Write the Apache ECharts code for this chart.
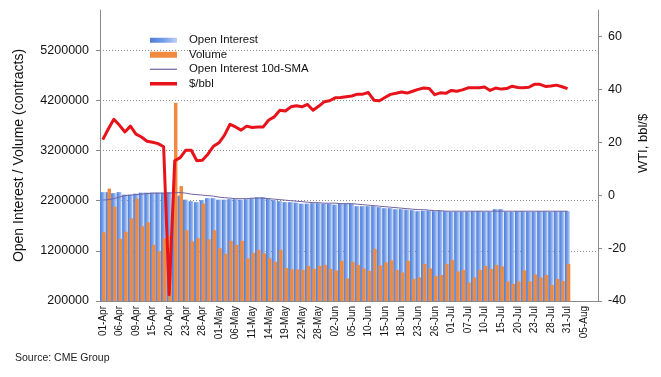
<!DOCTYPE html>
<html>
<head>
<meta charset="utf-8">
<script src="https://cdn.jsdelivr.net/npm/echarts@6/dist/echarts.min.js"></script>
<style>
  html, body { margin: 0; padding: 0; background: #fff; }
  #chart { width: 661px; height: 377px; }
</style>
</head>
<body>
<div id="chart"></div>
<script>
// trading days, 01-Apr .. 07-Aug (data ends 31-Jul)
const dates = [
  '01-Apr','02-Apr','03-Apr','06-Apr','07-Apr','08-Apr','09-Apr','13-Apr','14-Apr','15-Apr','16-Apr','17-Apr','20-Apr','21-Apr','22-Apr','23-Apr','24-Apr','27-Apr','28-Apr','29-Apr','30-Apr',
  '01-May','04-May','05-May','06-May','07-May','08-May','11-May','12-May','13-May','14-May','15-May','18-May','19-May','20-May','21-May','22-May','26-May','27-May','28-May','29-May',
  '01-Jun','02-Jun','03-Jun','04-Jun','05-Jun','08-Jun','09-Jun','10-Jun','11-Jun','12-Jun','15-Jun','16-Jun','17-Jun','18-Jun','19-Jun','22-Jun','23-Jun','24-Jun','25-Jun','26-Jun','29-Jun','30-Jun',
  '01-Jul','02-Jul','06-Jul','07-Jul','08-Jul','09-Jul','10-Jul','13-Jul','14-Jul','15-Jul','16-Jul','17-Jul','20-Jul','21-Jul','22-Jul','23-Jul','24-Jul','27-Jul','28-Jul','29-Jul','30-Jul','31-Jul',
  '03-Aug','04-Aug','05-Aug','06-Aug','07-Aug'
];

const openInterest = [
  2370000,2370000,2350000,2370000,2320000,2320000,2340000,2360000,2360000,2360000,2360000,2360000,2370000,2380000,2300000,
  2220000,2190000,2170000,2210000,2250000,2250000,2220000,2220000,2230000,2230000,2220000,2230000,2250000,2270000,2270000,
  2240000,2210000,2190000,2170000,2170000,2160000,2140000,2140000,2150000,2150000,2140000,2140000,2120000,2140000,2140000,
  2140000,2090000,2090000,2090000,2090000,2070000,2050000,2050000,2030000,2030000,2020000,2010000,1990000,2000000,2000000,
  1990000,2000000,1990000,1980000,1980000,1980000,1980000,1990000,1990000,1980000,1980000,2030000,2030000,1980000,1980000,
  1990000,1990000,1980000,1980000,1990000,1990000,1980000,1990000,1990000,1990000
];

const volume = [
  1570000,2440000,2080000,1440000,1580000,1850000,2240000,1690000,1770000,1320000,1190000,1450000,1500000,4150000,2490000,
  1610000,1390000,1450000,2140000,1430000,1610000,1250000,1140000,1400000,1320000,1400000,1050000,1160000,1220000,1150000,
  1050000,980000,1220000,860000,830000,830000,820000,900000,840000,900000,920000,840000,810000,1000000,650000,
  980000,920000,850000,800000,1240000,910000,970000,1010000,820000,770000,1000000,640000,670000,940000,850000,
  700000,720000,940000,1020000,790000,820000,570000,670000,820000,900000,840000,920000,890000,590000,540000,
  590000,810000,590000,730000,670000,720000,520000,640000,600000,940000
];

const oiSma10 = [
  2210000,2220000,2240000,2270000,2300000,2310000,2320000,2330000,2340000,2350000,2350000,2350000,2350000,2360000,2360000,
  2350000,2330000,2320000,2310000,2300000,2290000,2270000,2260000,2250000,2240000,2240000,2240000,2250000,2250000,2250000,
  2240000,2230000,2220000,2210000,2200000,2190000,2180000,2170000,2160000,2160000,2150000,2150000,2150000,2140000,2140000,
  2140000,2130000,2120000,2110000,2100000,2090000,2080000,2070000,2060000,2050000,2040000,2030000,2020000,2020000,2010000,
  2000000,2000000,1990000,1990000,1990000,1990000,1990000,1990000,1990000,1990000,1990000,1990000,1990000,1990000,1990000,
  1990000,1990000,1990000,1990000,1990000,1990000,1990000,1990000,1990000,1990000
];

// WTI front month, $/bbl
const wti = [
  21.0,25.0,28.7,26.5,23.9,26.1,23.1,22.0,20.4,20.0,19.5,18.3,-37.6,13.0,14.2,
  17.0,17.0,13.0,13.2,15.5,18.5,19.8,22.7,26.8,25.8,24.6,26.1,25.6,25.8,25.8,
  28.4,29.6,32.1,31.8,33.4,33.8,33.4,34.3,32.1,33.6,35.3,35.7,36.8,36.9,37.2,
  37.5,38.2,38.2,38.8,35.9,35.7,36.9,38.1,38.5,39.0,38.6,39.3,40.0,40.5,40.3,
  38.0,38.7,38.5,39.6,39.3,39.8,40.6,40.6,40.6,40.9,39.6,40.5,40.1,40.3,41.2,
  40.7,40.6,40.8,41.9,41.9,41.1,41.3,41.6,41.0,40.3
];

const font = '"Liberation Sans", Arial, sans-serif';
const axisGrey = '#8a8a8a';
const gridGrey = '#8c8c8c';
const textCol = '#111';

const chart = echarts.init(document.getElementById('chart'));

const option = {
  animation: false,
  textStyle: { fontFamily: font },
  grid: { left: 100, right: 63, top: 10, bottom: 76 },
  legend: {
    orient: 'vertical',
    left: 145,
    top: 29,
    itemWidth: 27,
    itemHeight: 6,
    itemGap: 2,
    symbolKeepAspect: true,
    textStyle: { fontSize: 11.4, lineHeight: 12.5, color: textCol, padding: [0, 0, 0, 7] },
    data: [
      { name: 'Open Interest', icon: 'path://M0 0H27V5H0Z' },
      { name: 'Volume', icon: 'rect' },
      { name: 'Open Interest 10d-SMA', icon: 'path://M0 0H27V1.2H0Z', itemStyle: { color: '#6e62a2', borderWidth: 0 } },
      { name: '$/bbl', icon: 'path://M0 0H27V3.5H0Z', itemStyle: { color: '#e8121b', borderWidth: 0 } }
    ]
  },
  xAxis: {
    type: 'category',
    data: dates,
    boundaryGap: true,
    axisLine: { onZero: false, lineStyle: { color: axisGrey } },
    axisTick: { interval: 0, length: 4, lineStyle: { color: axisGrey } },
    axisLabel: { interval: 2, rotate: 90, fontSize: 10, color: textCol, margin: 5 }
  },
  yAxis: [
    {
      type: 'value',
      position: 'left',
      min: 200000,
      max: 6000000,
      interval: 1000000,
      name: 'Open Interest / Volume (contracts)',
      nameLocation: 'middle',
      nameRotate: 90,
      nameGap: 74,
      nameTextStyle: { fontSize: 14, color: textCol },
      axisLine: { show: true, lineStyle: { color: axisGrey } },
      axisTick: { show: true, length: 4, lineStyle: { color: axisGrey } },
      axisLabel: { fontSize: 12.5, color: textCol, margin: 11, showMaxLabel: false, formatter: v => String(v) },
      splitLine: {
        show: true,
        lineStyle: { type: [1, 2], width: 1, color: ['transparent', gridGrey, gridGrey, gridGrey, gridGrey, gridGrey, 'transparent'] }
      }
    },
    {
      type: 'value',
      position: 'right',
      min: -40,
      max: 70,
      interval: 20,
      name: 'WTI, bbl/$',
      nameLocation: 'middle',
      nameRotate: 90,
      nameGap: 37,
      nameTextStyle: { fontSize: 13, color: textCol, padding: [0, 0, 0, 24] },
      axisLine: { show: true, lineStyle: { color: axisGrey } },
      axisTick: { show: true, length: 4, lineStyle: { color: axisGrey } },
      axisLabel: { fontSize: 12.5, color: textCol, margin: 10, showMaxLabel: false },
      splitLine: { show: false }
    }
  ],
  series: [
    {
      name: 'Open Interest',
      type: 'bar',
      data: openInterest,
      barWidth: 5,
      barGap: '-60%',
      itemStyle: {
        color: new echarts.graphic.LinearGradient(0, 0, 1, 0, [
          { offset: 0, color: '#4d7dd7' },
          { offset: 0.5, color: '#739ce9' },
          { offset: 1, color: '#bdd1f4' }
        ])
      }
    },
    {
      name: 'Volume',
      type: 'bar',
      data: volume,
      barWidth: 3.5,
      barGap: '-60%',
      itemStyle: { color: '#ef8a3e' }
    },
    {
      name: 'Open Interest 10d-SMA',
      type: 'line',
      data: oiSma10,
      symbol: 'none',
      lineStyle: { color: '#6e62a2', width: 1 },
      itemStyle: { color: '#6e62a2' }
    },
    {
      name: '$/bbl',
      type: 'line',
      yAxisIndex: 1,
      data: wti,
      symbol: 'none',
      lineStyle: { color: '#e8121b', width: 3, join: 'round' },
      itemStyle: { color: '#e8121b' }
    }
  ],
  graphic: [
    {
      type: 'text',
      left: 15,
      top: 353,
      style: { text: 'Source: CME Group', fontSize: 10.5, fill: '#222', fontFamily: font }
    }
  ]
};

chart.setOption(option);
</script>
</body>
</html>
